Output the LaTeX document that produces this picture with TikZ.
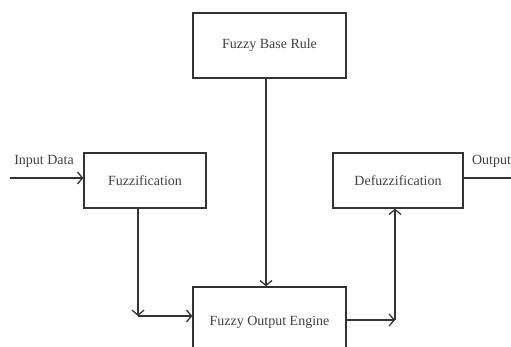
\documentclass[tikz,border=0pt]{standalone}
\usepackage{fontspec}
\setmainfont{Liberation Serif}
\usetikzlibrary{arrows.meta}
\definecolor{linec}{HTML}{333333}
\definecolor{textc}{HTML}{404040}
\begin{document}
\begin{tikzpicture}[x=1pt,y=-1pt,
  blk/.style={draw=linec, line width=1.3pt, fill=white, inner sep=0pt, font=\fontsize{14}{16}\selectfont, text=textc},
  lbl/.style={inner sep=0pt, font=\fontsize{14}{16}\selectfont, text=textc},
  arr/.style={draw=linec, line width=1.3pt, -{Straight Barb[length=5pt,width=12pt,line width=1.3pt]}},
  ln/.style={draw=linec, line width=1.3pt}]
\useasboundingbox (0,0) rectangle (511,347);
\node[blk, minimum width=153pt, minimum height=65pt] (base) at (269.5,45.5) {Fuzzy Base Rule};
\node[blk, minimum width=122pt, minimum height=55pt] (fuzz) at (145,180.5) {Fuzzification};
\node[blk, minimum width=130pt, minimum height=55pt] (defuzz) at (398,180.5) {Defuzzification};
\node[blk, minimum width=153pt, minimum height=70pt] (engine) at (269.5,322) {Fuzzy Output Engine};
\coordinate (in) at (10,178);
\coordinate (out) at (511,178);
\coordinate (b1) at (266,0);
\coordinate (c1) at (138,316);
\coordinate (c2) at (395,320);
\node[lbl] (inl) at (44,161) {Input Data};
\node[lbl] (outl) at (491.5,161) {Output};
\draw[arr] (in) -- (fuzz.west |- in);
\draw[ln] (defuzz.east |- out) -- (out);
\draw[arr] (base.south -| b1) -- (engine.north -| b1);
\draw[arr] (fuzz.south -| c1) -- (c1);
\draw[arr] (c1) -- (engine.west |- c1);
\draw[arr] (engine.east |- c2) -- (c2);
\draw[arr] (c2) -- (defuzz.south -| c2);
\end{tikzpicture}
\end{document}
